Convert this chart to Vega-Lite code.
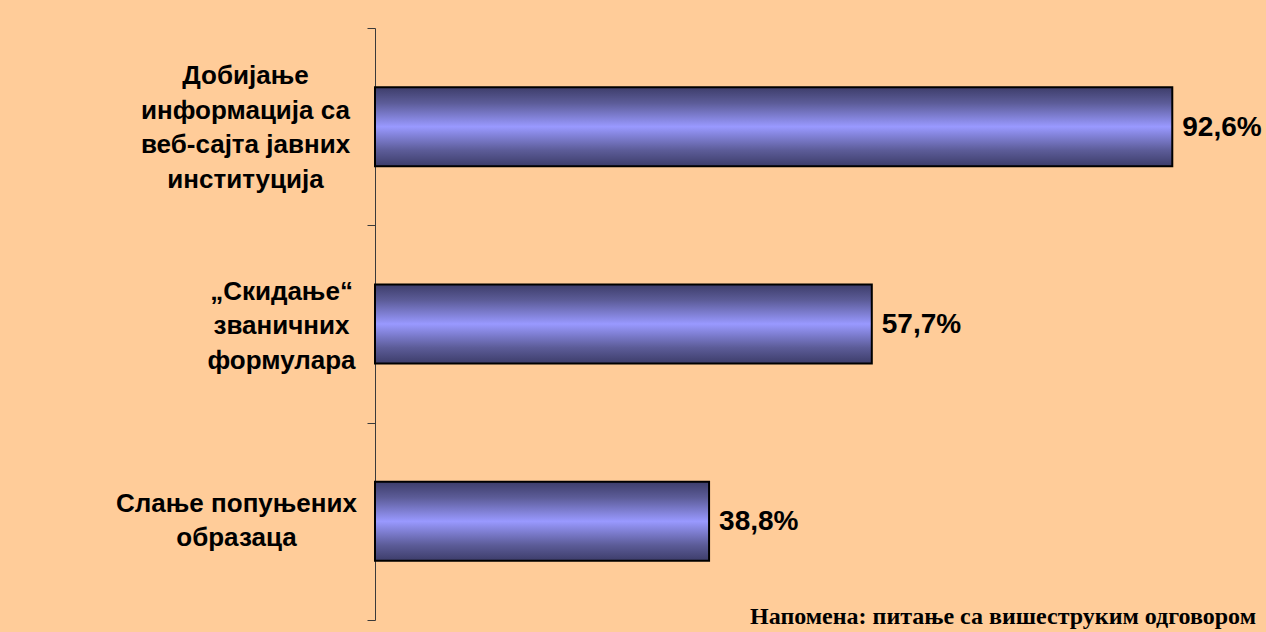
{
  "$schema": "https://vega.github.io/schema/vega-lite/v6.json",
  "width": 861,
  "height": 592,
  "autosize": {"type": "none"},
  "padding": {"left": 375, "top": 28, "right": 30, "bottom": 12},
  "background": "#FFCC99",
  "config": {"view": {"stroke": null}},
  "title": {
    "text": "Напомена: питање са вишеструким одговором",
    "orient": "bottom",
    "anchor": "end",
    "frame": "group",
    "font": "Liberation Serif",
    "fontSize": 24,
    "fontWeight": "bold",
    "color": "#000000",
    "baseline": "alphabetic",
    "offset": 3,
    "dx": 20
  },
  "data": {
    "values": [
      {"category": "Добијање|информација са|веб-сајта јавних|институција", "value": 92.6},
      {"category": "„Скидање“|званичних|формулара", "value": 57.7},
      {"category": "Слање попуњених|образаца", "value": 38.8}
    ]
  },
  "transform": [
    {"calculate": "replace(format(datum.value, '.1f'), '.', ',') + '%'", "as": "label"}
  ],
  "encoding": {
    "y": {
      "field": "category",
      "type": "nominal",
      "sort": null,
      "scale": {"paddingInner": 0, "paddingOuter": 0},
      "axis": {
        "title": null,
        "labelExpr": "isString(datum.value) ? split(datum.value, '|') : ''",
        "labelFont": "Liberation Sans",
        "labelFontSize": 26,
        "labelFontWeight": "bold",
        "labelColor": "#000000",
        "labelAlign": "center",
        "labelBaseline": "middle",
        "labelLineHeight": 34.5,
        "labelLimit": 0,
        "labelPadding": {
          "condition": [
            {"test": "isString(datum.value) && indexof(datum.value, 'Добијање') >= 0", "value": 122},
            {"test": "isString(datum.value) && indexof(datum.value, 'Скидање') >= 0", "value": 86}
          ],
          "value": 131
        },
        "labelOffset": {
          "condition": [
            {"test": "isString(datum.value) && indexof(datum.value, 'Добијање') >= 0", "value": -51},
            {"test": "isString(datum.value) && indexof(datum.value, 'Скидање') >= 0", "value": -33}
          ],
          "value": -18
        },
        "tickBand": "extent",
        "tickSize": 8,
        "tickColor": "#3a3a3a",
        "domainColor": "#3a3a3a",
        "tickWidth": 1,
        "domainWidth": 1
      }
    },
    "x": {
      "field": "value",
      "type": "quantitative",
      "scale": {"domain": [0, 100]},
      "axis": null
    }
  },
  "layer": [
    {
      "mark": {
        "type": "bar",
        "height": {"band": 0.4},
        "stroke": "#000000",
        "strokeWidth": 2,
        "color": {
          "gradient": "linear",
          "x1": 0, "y1": 0, "x2": 0, "y2": 1,
          "stops": [
            {"offset": 0, "color": "#3d3d6a"},
            {"offset": 0.2, "color": "#5c5c98"},
            {"offset": 0.5, "color": "#9999ff"},
            {"offset": 0.8, "color": "#5c5c98"},
            {"offset": 1, "color": "#3d3d6a"}
          ]
        }
      }
    },
    {
      "mark": {
        "type": "text",
        "align": "left",
        "baseline": "middle",
        "dx": 10,
        "dy": 1,
        "font": "Liberation Sans",
        "fontSize": 28,
        "fontWeight": "bold",
        "color": "#000000"
      },
      "encoding": {"text": {"field": "label"}}
    }
  ]
}
